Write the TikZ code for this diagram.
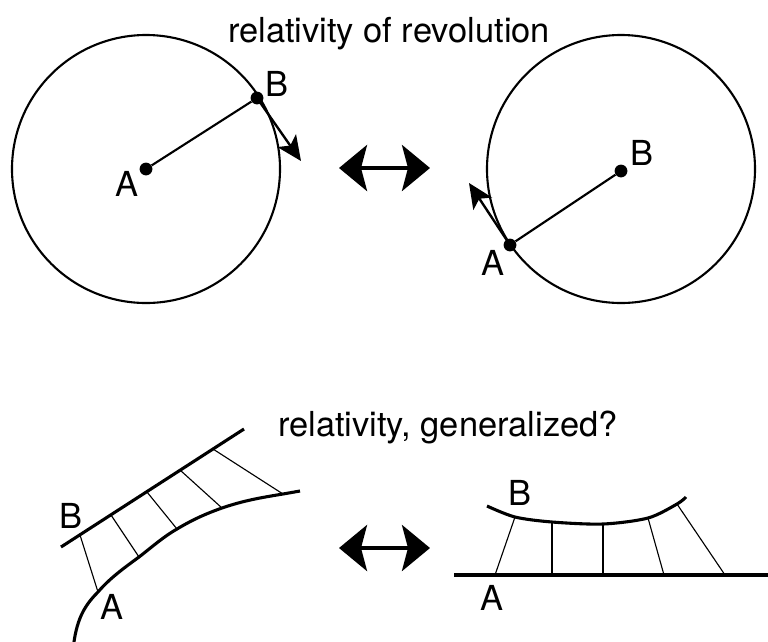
\documentclass[tikz,border=0pt]{standalone}
\usepackage{fontspec}
\setmainfont{TeX Gyre Heros}
\usetikzlibrary{
    arrows.meta,
    positioning
}
\tikzset{
    rim/.style={
        draw=black,
        line width=1.5pt
    },
    spoke/.style={
        line width=1.5pt
    },
    pointdot/.style={
        circle,
        fill=black,
        inner sep=0pt,
        minimum size=0.32cm
    },
    lbl/.style={
        inner sep=0pt,
        font=\fontsize{24.5}{29}\selectfont
    },
    heading/.style={
        inner sep=0pt,
        anchor=base,
        font=\fontsize{24.5}{29}\selectfont
    },
    tangent/.style={
        -{Stealth[length=0.62cm, width=0.56cm, inset=0.15cm]},
        line width=1.7pt
    },
    bothways/.style={
        {Stealth[length=0.7cm, width=1.15cm, inset=0.15cm]}-{Stealth[length=0.7cm, width=1.15cm, inset=0.15cm]},
        line width=3pt
    },
    track/.style={
        line width=2.2pt
    },
    rung/.style={
        line width=0.8pt
    }
}

\begin{document}
\begin{tikzpicture}[x=0.025cm, y=-0.025cm]
\useasboundingbox (0,0) rectangle (768,641);

% revolution
\node[heading] (top) at (389,42) {relativity of revolution};

\draw[rim] (146,169) circle[radius=134];
\node[pointdot] (A1) at (146,169) {};
\node[pointdot] (B1) at (257,98) {};
\coordinate (t1) at (301,161);
\draw[spoke] (A1) -- (B1);
\draw[tangent] (B1.center) -- (t1);
\node[lbl] at (127,184) {A};
\node[lbl] at (277,84) {B};

\draw[rim] (621,169) circle[radius=134];
\node[pointdot] (B2) at (621,171) {};
\node[pointdot] (A2) at (510,245) {};
\coordinate (t2) at (469,183);
\draw[spoke] (A2) -- (B2);
\draw[tangent] (A2.center) -- (t2);
\node[lbl] at (642,153) {B};
\node[lbl] at (493,263) {A};

\coordinate (L1) at (339,168);
\coordinate (R1) at (430,168);
\draw[bothways] (L1) -- (R1);

% generalized
\node[heading] (bottom) at (448,436) {relativity, generalized?};

\coordinate (u0) at (61,547);
\coordinate (u1) at (80,535);
\coordinate (u2) at (111,515);
\coordinate (u3) at (147,492);
\coordinate (u4) at (180,470);
\coordinate (u5) at (213,449);
\coordinate (u6) at (244,429);
\coordinate (l1) at (98,592);
\coordinate (l2) at (139,557);
\coordinate (l3) at (177,529);
\coordinate (l4) at (222,508);
\coordinate (l5) at (283,494);
\draw[track] (u0) -- (u6);
\draw[track] (73,650) .. controls (76,620) and (84,606) .. (l1)
    .. controls (110,578) and (124,568) .. (l2)
    .. controls (152,547) and (163,537) .. (l3)
    .. controls (192,520) and (205,514) .. (l4)
    .. controls (245,500) and (265,497) .. (l5) -- (300,491);
\draw[rung] (u1) -- (l1);
\draw[rung] (u2) -- (l2);
\draw[rung] (u3) -- (l3);
\draw[rung] (u4) -- (l4);
\draw[rung] (u5) -- (l5);
\node[lbl] at (71,516) {B};
\node[lbl] at (112,607) {A};

\coordinate (L2) at (339,548);
\coordinate (R2) at (430,548);
\draw[bothways] (L2) -- (R2);

\coordinate (g0) at (454,575);
\coordinate (g1) at (495,575);
\coordinate (g2) at (552,575);
\coordinate (g3) at (603,575);
\coordinate (g4) at (664,575);
\coordinate (g5) at (725,575);
\coordinate (g6) at (772,575);
\coordinate (c1) at (515,517);
\coordinate (c2) at (552,522);
\coordinate (c3) at (603,524);
\coordinate (c4) at (648,518);
\coordinate (c5) at (677,504);
\draw[track] plot[smooth] coordinates {(487,506) (c1) (c2) (c3) (c4) (c5) (686,497)};
\draw[track] (g0) -- (g6);
\draw[rung] (g1) -- (c1);
\draw[rung] (g2) -- (c2);
\draw[rung] (g3) -- (c3);
\draw[rung] (g4) -- (c4);
\draw[rung] (g5) -- (c5);
\node[lbl] at (520,493) {B};
\node[lbl] at (492,598) {A};
\end{tikzpicture}
\end{document}
